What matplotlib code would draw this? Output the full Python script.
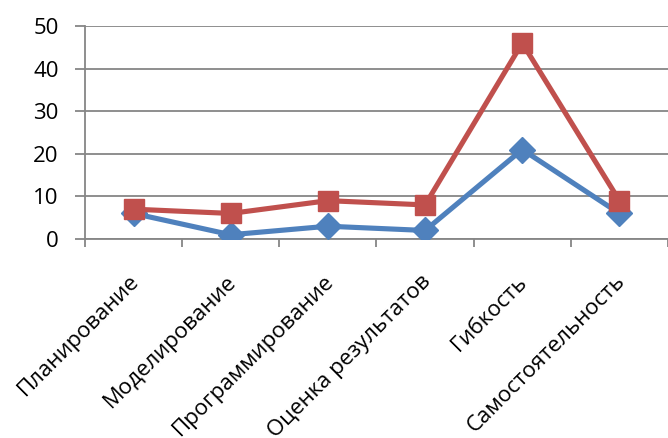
import numpy as np
import matplotlib.pyplot as plt
import matplotlib.transforms as mtransforms

plt.rcParams['font.family'] = ['Open Sans', 'DejaVu Sans']

categories = ["Планирование", "Моделирование", "Программирование",
              "Оценка результатов", "Гибкость", "Самостоятельность"]
series_blue = [6, 1, 3, 2, 21, 6]
series_red = [7, 6, 9, 8, 46, 9]

fig = plt.figure(figsize=(6.68, 4.38), dpi=100)
ax = fig.add_axes([85 / 668, 199 / 438, 583 / 668, 213 / 438])

x = np.arange(len(categories))
ax.plot(x, series_blue, color='#4F81BD', lw=3.7, marker='D', ms=13,
        zorder=3)
ax.plot(x, series_red, color='#C0504D', lw=3.7, marker='s', ms=14.5,
        zorder=4)

ax.set_xlim(-0.5, 5.5)
ax.set_ylim(0, 50)
ax.set_yticks(range(0, 51, 10))
ax.yaxis.grid(True, color='#868686', lw=1.3)
ax.set_axisbelow(True)

for s in ['top', 'right']:
    ax.spines[s].set_visible(False)
ax.spines['left'].set_color('#868686')
ax.spines['bottom'].set_color('#868686')
ax.spines['left'].set_linewidth(1.3)
ax.spines['bottom'].set_linewidth(1.3)

# тики категорий на границах, подписи по центру
ax.set_xticks(np.arange(-0.5, 6, 1.0))
ax.set_xticklabels([])
ax.set_xticks(x, minor=True)
ax.set_xticklabels(categories, minor=True, rotation=45, ha='right',
                   rotation_mode='anchor', fontsize=16)
ax.tick_params(axis='x', which='major', length=6, color='#868686', width=1.3)
ax.tick_params(axis='x', which='minor', length=0, pad=23)
ax.tick_params(axis='y', length=7, color='#868686', width=1.3,
               labelsize=16, pad=12)

# сдвиг подписей чуть влево
shift = mtransforms.ScaledTranslation(-5 / 100, 0, fig.dpi_scale_trans)
for lab in ax.get_xticklabels(minor=True):
    lab.set_transform(lab.get_transform() + shift)

fig.savefig('out.png', dpi=100)
